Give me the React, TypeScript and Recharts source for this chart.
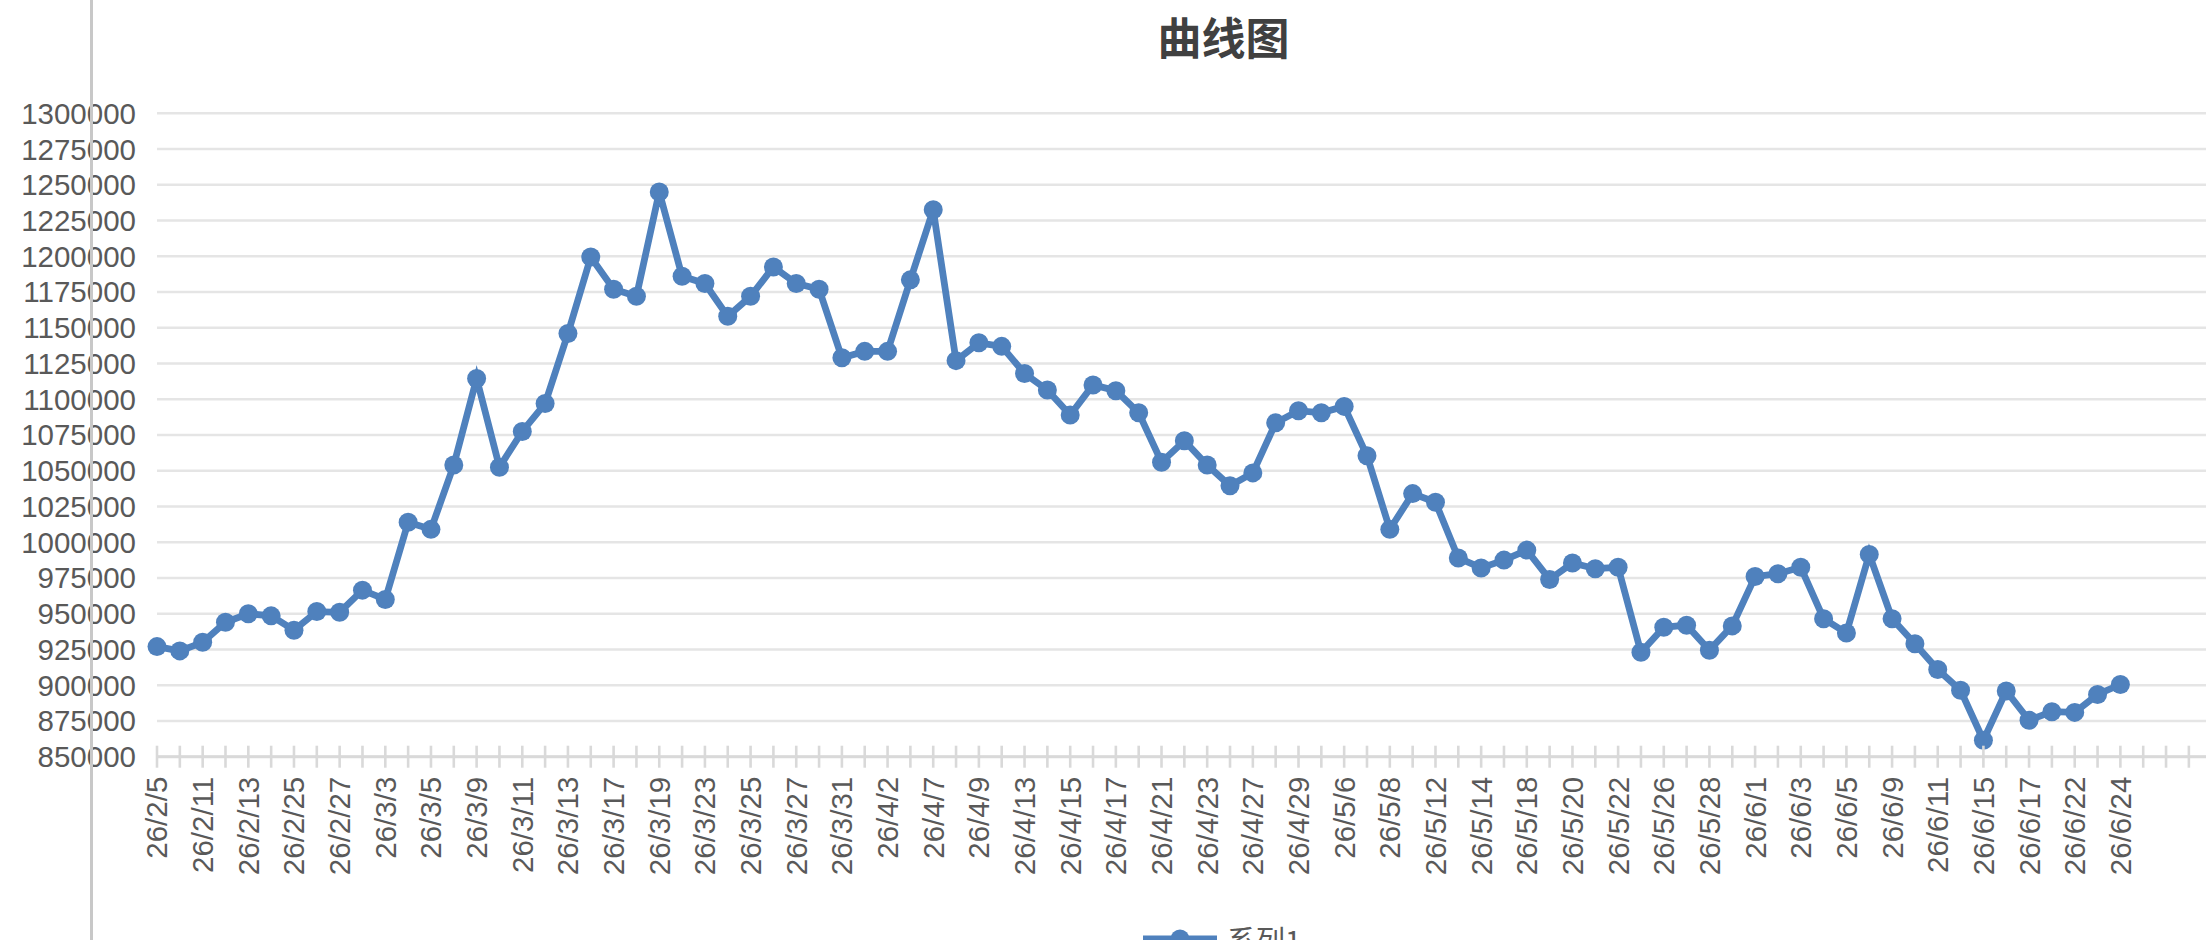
import React from "react";
import { LineChart, Line, XAxis, YAxis, CartesianGrid, Legend } from "recharts";

const categories: string[] = [
  "26/2/5", "26/2/10", "26/2/11", "26/2/12", "26/2/13", "26/2/24", "26/2/25", "26/2/26", "26/2/27", "26/3/2",
  "26/3/3", "26/3/4", "26/3/5", "26/3/6", "26/3/9", "26/3/10", "26/3/11", "26/3/12", "26/3/13", "26/3/16",
  "26/3/17", "26/3/18", "26/3/19", "26/3/20", "26/3/23", "26/3/24", "26/3/25", "26/3/26", "26/3/27", "26/3/30",
  "26/3/31", "26/4/1", "26/4/2", "26/4/3", "26/4/7", "26/4/8", "26/4/9", "26/4/10", "26/4/13", "26/4/14",
  "26/4/15", "26/4/16", "26/4/17", "26/4/20", "26/4/21", "26/4/22", "26/4/23", "26/4/24", "26/4/27", "26/4/28",
  "26/4/29", "26/4/30", "26/5/6", "26/5/7", "26/5/8", "26/5/11", "26/5/12", "26/5/13", "26/5/14", "26/5/15",
  "26/5/18", "26/5/19", "26/5/20", "26/5/21", "26/5/22", "26/5/25", "26/5/26", "26/5/27", "26/5/28", "26/5/29",
  "26/6/1", "26/6/2", "26/6/3", "26/6/4", "26/6/5", "26/6/8", "26/6/9", "26/6/10", "26/6/11", "26/6/12",
  "26/6/15", "26/6/16", "26/6/17", "26/6/18", "26/6/22", "26/6/23", "26/6/24",
];

const series1: number[] = [
  927000, 924000, 930000, 944000, 950000, 948500, 938500, 951500, 951000, 966500,
  960000, 1014000, 1009000, 1054000, 1114500, 1052500, 1077500, 1097000, 1146000, 1199500,
  1177000, 1172000, 1245000, 1186000, 1181000, 1158000, 1172000, 1192500, 1181000, 1177000,
  1129000, 1133500, 1133500, 1183500, 1232500, 1127000, 1139500, 1137000, 1118000, 1106500,
  1089000, 1110000, 1106000, 1090500, 1056000, 1071000, 1054000, 1039500, 1048500, 1083500,
  1092000, 1090500, 1095000, 1060500, 1009000, 1034000, 1028000, 989000, 982000, 987500,
  994500, 974000, 985500, 981500, 982500, 923000, 940500, 942000, 924500, 941500,
  976000, 978000, 982500, 946500, 936500, 991500, 946500, 929000, 911000, 896500,
  861500, 896000, 875500, 881500, 881000, 893500, 900500,
];

const yTicks: number[] = [
  850000, 875000, 900000, 925000, 950000, 975000, 1000000, 1025000, 1050000, 1075000,
  1100000, 1125000, 1150000, 1175000, 1200000, 1225000, 1250000, 1275000, 1300000,
];

const seriesName = "系列1";
const title = "曲线图";
const emptySlots = 4; // empty category slots after the last date

const totalSlots = categories.length + emptySlots;
const rows = Array.from({ length: totalSlots }, (_, i) => ({
  i,
  date: i < categories.length ? categories[i] : "",
  value: i < series1.length ? series1[i] : null,
}));
const xTicks = rows.map((r) => r.i);

const BLUE = "#4f81bd";
const TEXT = "#595959";
const FONT = "'Liberation Sans', Arial, Helvetica, sans-serif";
const CJK = "'Noto Sans CJK SC', 'Noto Sans', sans-serif";

function XTick(props: any) {
  const { x, y, payload } = props;
  const i = payload.value as number;
  const label = i < categories.length && i % 2 === 0 ? categories[i] : null;
  const ty = y + 20;
  return (
    <g>
      <line x1={x} x2={x} y1={y - 11} y2={y + 11} stroke="#d9d9d9" strokeWidth={2.6} />
      {label && (
        <text
          x={x}
          y={ty}
          transform={`rotate(-90, ${x}, ${ty})`}
          textAnchor="end"
          dy="0.355em"
          fill={TEXT}
          fontSize={29.5}
          fontFamily={FONT}
        >
          {label}
        </text>
      )}
    </g>
  );
}

function LegendContent() {
  return (
    <div style={{ height: 40, display: "flex", alignItems: "center" }}>
      <svg width={74} height={40}>
        <line x1={0} x2={74} y1={20} y2={20} stroke={BLUE} strokeWidth={6.8} />
        <circle cx={37} cy={20} r={9.5} fill={BLUE} />
      </svg>
      <span style={{ marginLeft: 10, fontSize: 29, color: TEXT, fontFamily: CJK, lineHeight: "40px" }}>
        {seriesName}
      </span>
    </div>
  );
}

export default function App() {
  return (
    <div
      style={{
        position: "fixed",
        left: 0,
        top: 0,
        width: 2206,
        height: 940,
        overflow: "hidden",
        background: "#ffffff",
      }}
    >
      <LineChart
        width={2300}
        height={980}
        data={rows}
        margin={{ top: 113.3, right: 88.3, left: 27, bottom: 21 }}
      >
        <CartesianGrid horizontal vertical={false} stroke="#e5e5e5" strokeWidth={2.6} />
        <XAxis
          type="number"
          dataKey="i"
          domain={[0, totalSlots - 1]}
          ticks={xTicks}
          interval={0}
          tickSize={0}
          tickMargin={0}
          height={162.3}
          axisLine={{ stroke: "#d9d9d9", strokeWidth: 3 }}
          tickLine={false}
          tick={<XTick />}
        />
        <YAxis
          type="number"
          domain={[850000, 1300000]}
          ticks={yTicks}
          interval={0}
          width={130}
          axisLine={false}
          tickLine={false}
          tickSize={0}
          tickMargin={21}
          tick={{ fill: TEXT, fontSize: 29.5, fontFamily: FONT }}
        />
        <Legend
          verticalAlign="bottom"
          content={<LegendContent />}
          wrapperStyle={{ left: 1143, width: 200 }}
        />
        <Line
          type="linear"
          dataKey="value"
          name={seriesName}
          stroke={BLUE}
          strokeWidth={6.8}
          dot={{ r: 9.5, fill: BLUE, stroke: BLUE, strokeWidth: 0 }}
          activeDot={false}
          isAnimationActive={false}
        />
      </LineChart>
      <div
        style={{
          position: "absolute",
          left: 1123.5,
          top: 12,
          width: 200,
          textAlign: "center",
          fontSize: 44,
          lineHeight: "48px",
          fontWeight: 700,
          color: "#404040",
          fontFamily: CJK,
        }}
      >
        {title}
      </div>
      <div
        style={{
          position: "absolute",
          left: 90,
          top: 0,
          width: 3,
          height: 940,
          background: "#c8c8c8",
        }}
      />
    </div>
  );
}
